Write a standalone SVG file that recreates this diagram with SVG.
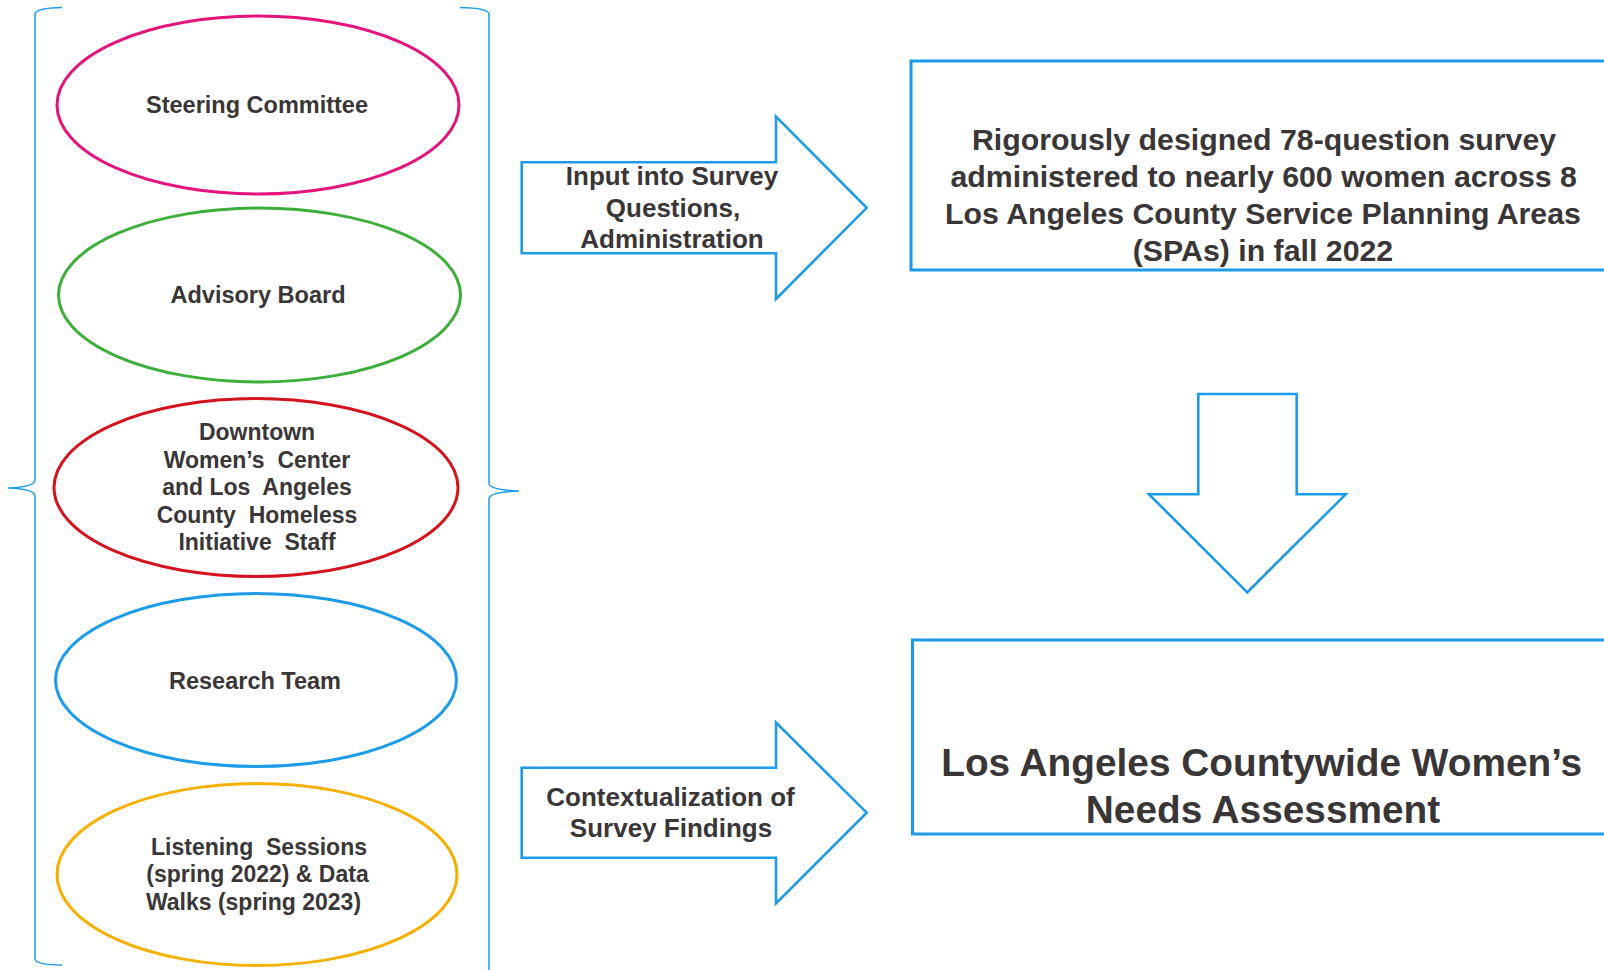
<svg xmlns="http://www.w3.org/2000/svg" width="1604" height="970" viewBox="0 0 1604 970">
<style>
text{font-family:"Liberation Sans",Arial,sans-serif;font-weight:bold;fill:#3a3637;text-anchor:middle;white-space:pre}
.el{fill:none;stroke-width:3}
.blue{fill:none;stroke:#1c9be6;stroke-width:2.6;stroke-linejoin:miter}
.box{fill:none;stroke:#1c9be6;stroke-width:3}
.brace{fill:none;stroke:#1c9be6;stroke-width:1.5}
.s23{font-size:23px}
.s235{font-size:23.5px}
.s26{font-size:26px}
.s30{font-size:30.3px}
.s39{font-size:38.8px}
</style>
<rect width="1604" height="970" fill="#ffffff"/>
<g id="braces">
<path class="brace" d="M62,7.5 Q36,8 35,14 L35,480 Q35,487 8,488 Q35,489 35,496 L35,959 Q36,965 62,965"/>
<path class="brace" d="M460,7.5 Q488,8 489,14 L489,483 Q489,490 519,491 Q489,492 489,499 L489,980"/>
</g>
<g id="steering">
<ellipse class="el" cx="258" cy="105" rx="201" ry="89" stroke="#e3147c"/>
<text class="s235" x="257" y="113">Steering Committee</text>
</g>
<g id="advisory">
<ellipse class="el" cx="259.5" cy="295" rx="201" ry="87" stroke="#3dae3b"/>
<text class="s235" x="258" y="303">Advisory Board</text>
</g>
<g id="downtown">
<ellipse class="el" cx="256" cy="487.5" rx="202" ry="89" stroke="#d3131d"/>
<text class="s23" xml:space="preserve"><tspan x="257" y="439.5">Downtown</tspan><tspan x="257" y="467.5">Women’s  Center</tspan><tspan x="257" y="495">and Los  Angeles</tspan><tspan x="257" y="522.5">County  Homeless</tspan><tspan x="257" y="550">Initiative  Staff</tspan></text>
</g>
<g id="research">
<ellipse class="el" cx="256" cy="680" rx="200.5" ry="86.5" stroke="#1c9be6"/>
<text class="s235" x="255" y="688.5">Research Team</text>
</g>
<g id="listening">
<ellipse class="el" cx="257" cy="874.5" rx="200" ry="91" stroke="#f5b000"/>
<text class="s23" xml:space="preserve"><tspan x="259" y="854.5">Listening  Sessions</tspan><tspan x="257.5" y="882">(spring 2022) &amp; Data</tspan><tspan x="253.5" y="909.5">Walks (spring 2023)</tspan></text>
</g>
<g id="connectors">
<g id="arrow-input">
<polygon class="blue" points="521.7,162.3 776,162.3 776,116.7 866.7,207.8 776,299 776,253.3 521.7,253.3"/>
<text class="s26"><tspan x="672" y="185">Input into Survey</tspan><tspan x="673" y="216.7">Questions,</tspan><tspan x="672" y="248.3">Administration</tspan></text>
</g>
<g id="arrow-context">
<polygon class="blue" points="521.7,767.7 776,767.7 776,722.7 866.7,812.7 776,903.3 776,857.7 521.7,857.7"/>
<text class="s26"><tspan x="670.5" y="806">Contextualization of</tspan><tspan x="671" y="836.7">Survey Findings</tspan></text>
</g>
<g id="arrow-down">
<polygon class="blue" points="1198.3,394 1296.7,394 1296.7,494.3 1345.7,494.3 1247.3,592.3 1149,494.3 1198.3,494.3"/>
</g>
</g>
<g id="survey">
<rect class="box" x="911" y="61" width="720" height="209"/>
<text class="s30"><tspan x="1264" y="150">Rigorously designed 78-question survey</tspan><tspan x="1263.7" y="187.3">administered to nearly 600 women across 8</tspan><tspan x="1263" y="224.3">Los Angeles County Service Planning Areas</tspan><tspan x="1263" y="261">(SPAs) in fall 2022</tspan></text>
</g>
<g id="assessment">
<rect class="box" x="912.5" y="640" width="720" height="194"/>
<text class="s39"><tspan x="1261.7" y="776">Los Angeles Countywide Women’s</tspan><tspan x="1263" y="823.3">Needs Assessment</tspan></text>
</g>
</svg>
